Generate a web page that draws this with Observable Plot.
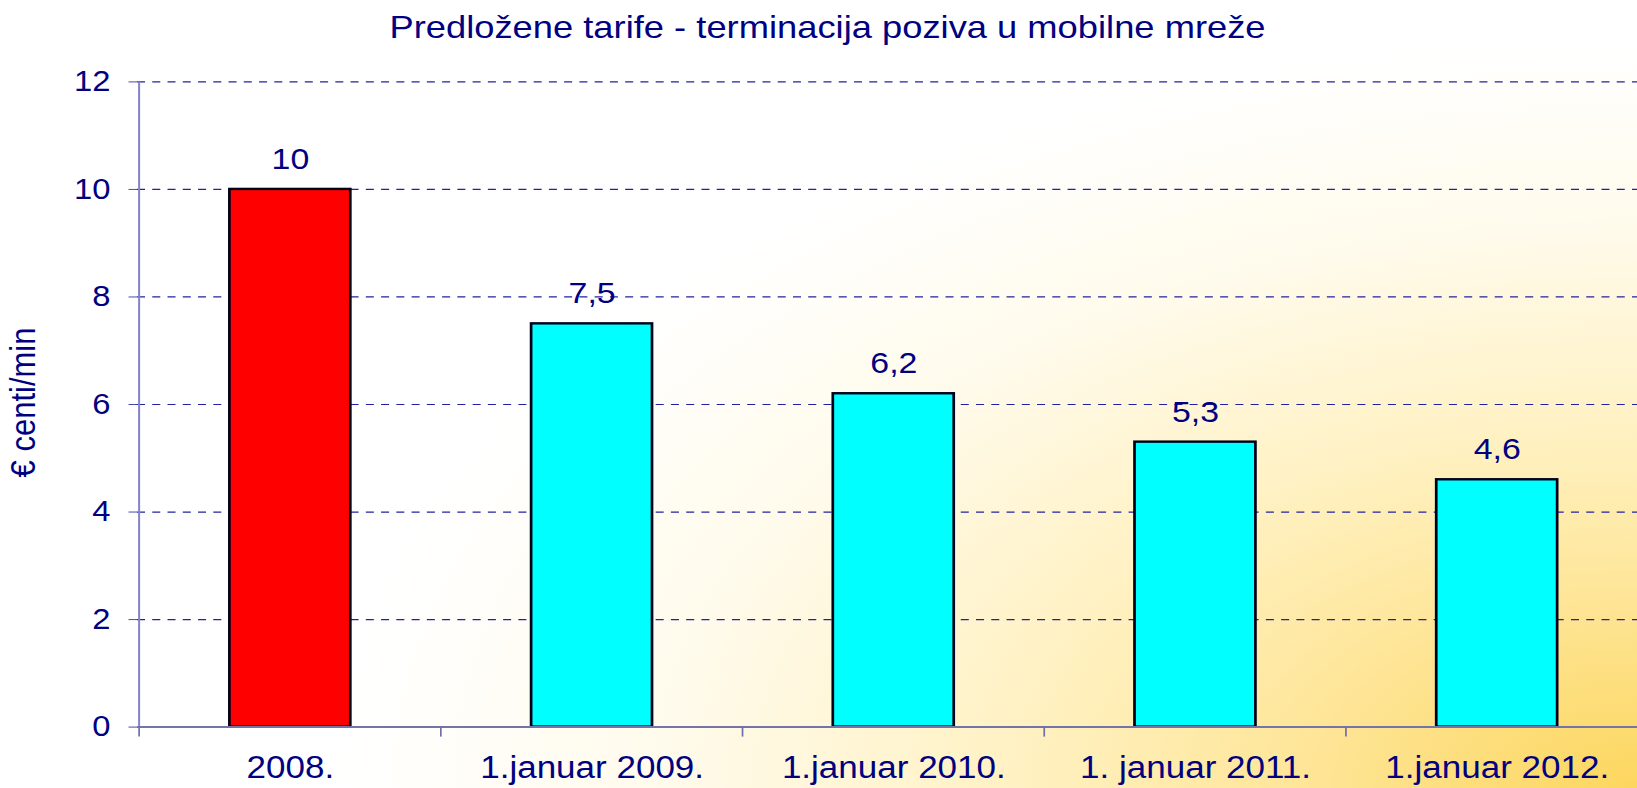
<!DOCTYPE html>
<html>
<head>
<meta charset="utf-8">
<script src="https://cdn.jsdelivr.net/npm/d3@7"></script>
<script src="https://cdn.jsdelivr.net/npm/@observablehq/plot@0.6"></script>
<style>
html, body { margin: 0; padding: 0; }
body {
  width: 1637px; height: 788px; overflow: hidden; position: relative;
  background: radial-gradient(ellipse 1300px 750px at 1637px 788px, #FCD65E 0%, #FEE596 25%, #FFF2C6 50%, #FFFBEC 75%, #FFFFFF 100%);
  font-family: "Liberation Sans", Arial, sans-serif;
}
#title {
  position: absolute; left: 9px; top: 11px; width: 1637px;
  text-align: center; font-size: 32px; line-height: 32px; color: #000080;
  transform: scaleX(1.135); transform-origin: 50% 50%; white-space: nowrap;
}
#chart { position: absolute; left: 0; top: 0; }
</style>
</head>
<body>
<div id="chart"></div>
<div id="title"></div>
<script>
const chartTitle = "Predložene tarife - terminacija poziva u mobilne mreže";
const categories = ["2008.", "1.januar 2009.", "1.januar 2010.", "1. januar 2011.", "1.januar 2012."];
const values = [10, 7.5, 6.2, 5.3, 4.6];
const valueLabels = ["10", "7,5", "6,2", "5,3", "4,6"];
const yTicks = [0, 2, 4, 6, 8, 10, 12];
const yLabel = "€ centi/min";
const barColors = ["#FF0000", "#00FFFF", "#00FFFF", "#00FFFF", "#00FFFF"];

document.getElementById("title").textContent = chartTitle;

const FULL_W = 1637, H = 788, S = 1.13;
const W = FULL_W / S;
const left = 137 / S, right = 1650 / S;
const step = (right - left) / categories.length;
const data = categories.map((c, i) => ({category: c, value: values[i], label: valueLabels[i]}));

const plot = Plot.plot({
  width: W,
  height: H,
  marginLeft: left,
  marginRight: 0,
  marginTop: 81.4,
  marginBottom: 61.4,
  style: {background: "transparent", fontFamily: "'Liberation Sans', Arial, sans-serif", maxWidth: "none", width: FULL_W + "px", height: H + "px"},
  x: {domain: categories, range: [left, right], paddingInner: 0.6, paddingOuter: 0.3, align: 0.5, axis: null},
  y: {domain: [0, 12], axis: null},
  color: {domain: categories, range: barColors},
  marks: [
    Plot.gridY(yTicks.filter(t => t > 0), {stroke: "#2222A0", strokeOpacity: 1, strokeWidth: 1.2, strokeDasharray: "7.1,6.4"}),
    Plot.barY(data, {x: "category", y: "value", fill: "category", stroke: "#000018", strokeWidth: 2.4}),
    Plot.ruleY([0], {stroke: "#7474A8", strokeWidth: 2}),
    Plot.ruleX([categories[0]], {x: d => d, dx: -step / 2, stroke: "#8484C8", strokeWidth: 1.8}),
    Plot.ruleX(categories, {x: d => d, y1: 0, y2: 0, insetBottom: -10, dx: -step / 2, stroke: "#6E6EAA", strokeWidth: 1.5}),
    Plot.axisY(yTicks, {anchor: "left", tickSize: 7.5, tickPadding: 16.5, tickFormat: d => String(d), fontSize: 29, fill: "#000080", stroke: "#4A4AA8", label: null}),
    Plot.axisX(categories, {anchor: "bottom", tickSize: 0, tickPadding: 29, fontSize: 31, fill: "#000080", label: null}),
    Plot.text(data, {x: "category", y: "value", text: "label", dy: -30, lineAnchor: "middle", fontSize: 30, fill: "#000080"}),
    Plot.text([yLabel], {text: d => d, frameAnchor: "left", textAnchor: "middle", dx: 23 / S - left, dy: -2, rotate: -90, fontSize: 31, fill: "#000080", lineAnchor: "middle"})
  ]
});
plot.setAttribute("width", FULL_W);
plot.setAttribute("height", H);
plot.setAttribute("viewBox", `0 0 ${W} ${H}`);
plot.setAttribute("preserveAspectRatio", "none");
document.getElementById("chart").appendChild(plot);
</script>
</body>
</html>
